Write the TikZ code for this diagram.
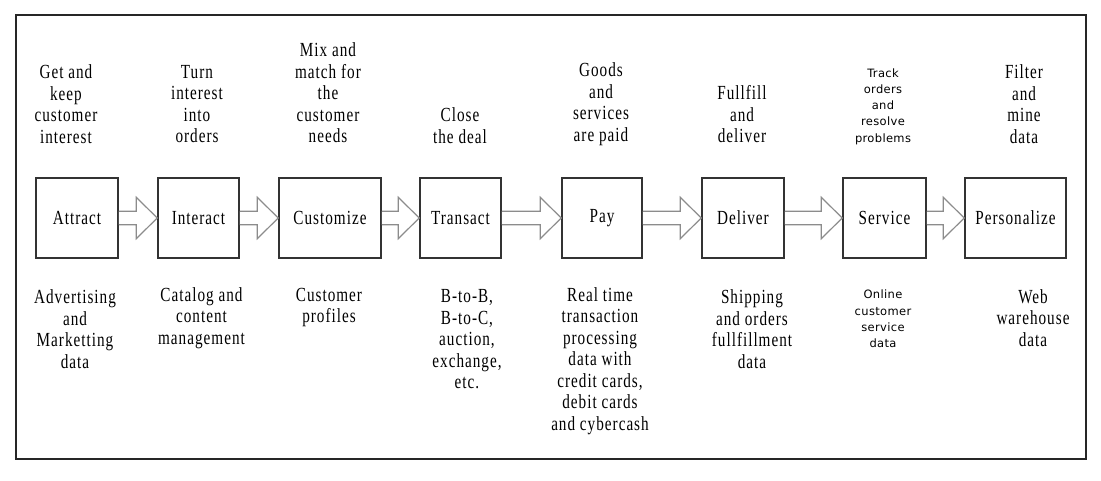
\documentclass[tikz,border=0pt]{standalone}
\usepackage{fontspec}
\setmainfont[FakeStretch=0.76,LetterSpace=5]{Liberation Serif}
\newfontfamily\smallsans[LetterSpace=3]{DejaVu Sans}
\usetikzlibrary{calc}
\begin{document}
\begin{tikzpicture}[x=1pt,y=-1pt,
  stagebox/.style={draw=black!80,line width=1.5pt,fill=white,minimum height=80pt,inner sep=0pt,
    font=\fontsize{20}{21.5}\selectfont},
  lbl/.style={align=center,inner sep=0pt,font=\fontsize{20}{21.5}\selectfont},
  slbl/.style={align=center,inner sep=0pt,font=\smallsans\fontsize{11.5}{16.2}\selectfont},
  blockarrow/.style={draw=black!45,line width=1.2pt,fill=white,line join=miter}]
\useasboundingbox (0,0) rectangle (1101,481);
\draw[line width=2.5pt,draw=black!85] (16,15) rectangle (1086,459);
% stages
\node[stagebox,minimum width=82pt]  (att) at (77,218)    {Attract};
\node[stagebox,minimum width=81pt]  (int) at (198.5,218) {Interact};
\node[stagebox,minimum width=102pt] (cus) at (330,218)   {Customize};
\node[stagebox,minimum width=81pt]  (tra) at (460.5,218) {Transact};
\node[stagebox,minimum width=80pt]  (pay) at (602,218)   {Pay};
\node[stagebox,minimum width=82pt]  (del) at (743,218)   {Deliver};
\node[stagebox,minimum width=83pt]  (ser) at (884.5,218) {Service};
\node[stagebox,minimum width=101pt] (per) at (1015.5,218){Personalize};
% block arrows
\foreach \a/\b in {att/int,int/cus,cus/tra,tra/pay,pay/del,del/ser,ser/per}{
  \draw[blockarrow] ($(\a.east)+(0,-6.7)$) -- ($(\b.west)+(-21,-6.7)$) -- ($(\b.west)+(-21,-20.7)$)
    -- (\b.west) -- ($(\b.west)+(-21,20.7)$) -- ($(\b.west)+(-21,6.7)$) -- ($(\a.east)+(0,6.7)$);
}
% top labels
\node[lbl] (t1) at (66,104)   {Get and\\keep\\customer\\interest};
\node[lbl] (t2) at (197,104)  {Turn\\interest\\into\\orders};
\node[lbl] (t3) at (328,93)   {Mix and\\match for\\the\\customer\\needs};
\node[lbl] (t4) at (460,125.5){Close\\the deal};
\node[lbl] (t5) at (601,104)  {Goods\\and\\services\\are paid};
\node[lbl] (t6) at (742,114.5){Fullfill\\and\\deliver};
\node[slbl](t7) at (883,106.5){Track\\orders\\and\\resolve\\problems};
\node[lbl] (t8) at (1024,104) {Filter\\and\\mine\\data};
% bottom labels
\node[lbl] (b1) at (75,329)   {Advertising\\and\\Marketting\\data};
\node[lbl] (b2) at (201.5,318){Catalog and\\content\\management};
\node[lbl] (b3) at (329,307.5){Customer\\profiles};
\node[lbl] (b4) at (467,339.5){B-to-B,\\B-to-C,\\auction,\\exchange,\\etc.};
\node[lbl] (b5) at (600,361)  {Real time\\transaction\\processing\\data with\\credit cards,\\debit cards\\and cybercash};
\node[lbl] (b6) at (752,329)  {Shipping\\and orders\\fullfillment\\data};
\node[slbl](b7) at (883,319)  {Online\\customer\\service\\data};
\node[lbl] (b8) at (1033,318) {Web\\warehouse\\data};
\end{tikzpicture}
\end{document}
